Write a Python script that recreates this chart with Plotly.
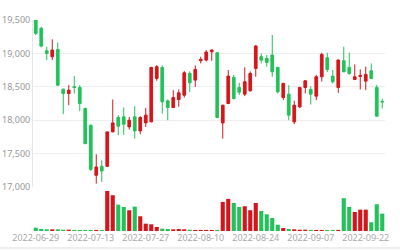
import plotly.graph_objects as go

dates = ["2022-06-29", "2022-06-30", "2022-07-01", "2022-07-04", "2022-07-05", "2022-07-06",
         "2022-07-07", "2022-07-08", "2022-07-11", "2022-07-12", "2022-07-13", "2022-07-14",
         "2022-07-15", "2022-07-18", "2022-07-19", "2022-07-20", "2022-07-21", "2022-07-22",
         "2022-07-25", "2022-07-26", "2022-07-27", "2022-07-28", "2022-07-29", "2022-08-01",
         "2022-08-02", "2022-08-03", "2022-08-04", "2022-08-05", "2022-08-08", "2022-08-09",
         "2022-08-10", "2022-08-11", "2022-08-12", "2022-08-15", "2022-08-16", "2022-08-17",
         "2022-08-18", "2022-08-19", "2022-08-22", "2022-08-23", "2022-08-24", "2022-08-25",
         "2022-08-26", "2022-08-29", "2022-08-30", "2022-08-31", "2022-09-01", "2022-09-02",
         "2022-09-05", "2022-09-06", "2022-09-07", "2022-09-08", "2022-09-09", "2022-09-13",
         "2022-09-14", "2022-09-15", "2022-09-16", "2022-09-19", "2022-09-20", "2022-09-21",
         "2022-09-22", "2022-09-23", "2022-09-26", "2022-09-27"]

open_ = [19500, 19375, 19040, 18950, 19060, 18465, 18400, 18500, 18490, 18175, 17925, 17175,
         17310, 17310, 17825, 18040, 18050, 17900, 18050, 17840, 17960, 17975, 18625, 18790,
         18290, 18190, 18310, 18375, 18700, 18600, 18890, 18900, 19025, 19010, 17960, 18250,
         18640, 18490, 18390, 18440, 18775, 18950, 18925, 18975, 18790, 18340, 18390, 17975,
         18200, 18490, 18460, 18360, 18650, 18935, 18660, 18490, 18890, 18790, 18610, 18655,
         18585, 18740, 18490, 18280]
high = [19525, 19400, 19100, 19210, 19165, 18470, 18525, 18660, 18525, 18190, 17930, 17490,
        17400, 17830, 18310, 18075, 18190, 18050, 18210, 18060, 18185, 18800, 18825, 18820,
        18310, 18450, 18460, 18735, 18730, 18820, 18950, 19050, 19060, 19020, 18230, 18750,
        18680, 18560, 18790, 18730, 19125, 19000, 18975, 19275, 18800, 18560, 18525, 18290,
        18500, 18600, 18510, 18680, 19010, 19010, 18750, 18910, 19100, 19010, 18835, 18760,
        18800, 18850, 18530, 18325]
low = [19275, 19090, 18900, 18900, 18510, 18090, 18225, 18400, 18135, 17640, 17240, 17050,
       17075, 17300, 17820, 17775, 17780, 17860, 17725, 17790, 17900, 17970, 18590, 18100,
       18000, 18185, 18200, 18340, 18420, 18500, 18850, 18880, 18890, 18030, 17725, 18240,
       18310, 18375, 18360, 18430, 18650, 18850, 18800, 18650, 18400, 18300, 18000, 17940,
       18180, 18400, 18235, 18300, 18580, 18720, 18550, 18410, 18720, 18680, 18600, 18460,
       18450, 18620, 18060, 18175]
close = [19300, 19110, 19000, 19050, 18525, 18400, 18450, 18490, 18250, 17650, 17265, 17300,
         17240, 17825, 17960, 17910, 17940, 18000, 17840, 18040, 18075, 18790, 18800, 18275,
         18190, 18340, 18410, 18710, 18560, 18760, 18910, 19020, 19050, 18040, 18225, 18660,
         18325, 18420, 18575, 18700, 19110, 18900, 18865, 18725, 18425, 18550, 18075, 18225,
         18490, 18590, 18390, 18650, 18985, 18760, 18575, 18900, 18725, 18700, 18650, 18670,
         18685, 18625, 18060, 18275]
volume = [330, 200, 170, 170, 170, 130, 130, 100, 100, 100, 70, 70,
          30, 4000, 3570, 2630, 2400, 2070, 2430, 1470, 730, 670, 400, 230,
          200, 170, 200, 170, 130, 100, 100, 100, 70, 30, 2900, 3200,
          2800, 2400, 2470, 2070, 2800, 2000, 1670, 1300, 630, 300, 200, 170,
          130, 130, 100, 100, 100, 30, 30, 70, 3270, 2400, 1900, 2130,
          2130, 870, 2670, 1730]
label_dates = ["2022-06-29", "2022-07-13", "2022-07-27", "2022-08-10", "2022-08-24",
               "2022-09-07", "2022-09-22"]

UP = "#d4161c"
DOWN = "#22c15a"
vol_colors = [UP if c > o else DOWN for o, c in zip(open_, close)]

fig = go.Figure()
fig.add_trace(go.Candlestick(
    x=dates, open=open_, high=high, low=low, close=close,
    increasing=dict(line=dict(color=UP, width=1), fillcolor=UP),
    decreasing=dict(line=dict(color=DOWN, width=1), fillcolor=DOWN),
    whiskerwidth=0, xaxis="x", yaxis="y", hoverinfo="skip", showlegend=False,
))
fig.add_trace(go.Bar(
    x=dates, y=volume, marker=dict(color=vol_colors, line=dict(width=0)),
    xaxis="x2", yaxis="y2", showlegend=False, hoverinfo="skip",
))

fig.update_layout(
    template="none",
    width=400, height=250,
    margin=dict(l=33, r=15, t=20, b=19, pad=0),
    paper_bgcolor="white", plot_bgcolor="white",
    bargap=0.25, boxgap=0.3,
    font=dict(family="Noto Sans, DejaVu Sans, sans-serif", color="#999999", size=9),
    xaxis=dict(type="category", domain=[0, 1], anchor="y", showticklabels=False,
               showgrid=False, rangeslider=dict(visible=False), range=[-0.5, 63.5],
               showline=False, zeroline=False, automargin=False, ticks="",
               categoryorder="array", categoryarray=dates),
    yaxis=dict(domain=[0.2085, 1], range=[17000, 19500],
               tickvals=[17000, 17500, 18000, 18500, 19000, 19500],
               tickformat=",", showgrid=True, gridcolor="#eeeeee", gridwidth=1,
               zeroline=False, showline=True, linecolor="#e6e6e6", linewidth=1,
               ticks="", automargin=False, tickfont=dict(size=9, color="#999999")),
    xaxis2=dict(type="category", domain=[0, 1], anchor="y2", matches="x", range=[-0.5, 63.5],
                tickvals=label_dates, ticktext=label_dates, ticks="", showgrid=False,
                showline=False, zeroline=False, automargin=False,
                tickfont=dict(size=9, color="#aaaaaa"),
                categoryorder="array", categoryarray=dates),
    yaxis2=dict(domain=[0, 0.19], range=[0, 4000], visible=False, automargin=False),
    shapes=[dict(type="line", xref="paper", yref="paper", x0=-33/352, x1=1 + 15/352,
                 y0=-17/211, y1=-17/211, line=dict(color="#dddddd", width=1))],
)

fig.write_html("out.html")
